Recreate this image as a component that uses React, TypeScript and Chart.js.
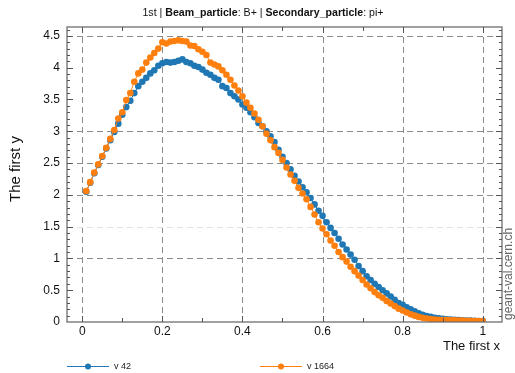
import { useEffect, useRef } from "react";
import { Chart, registerables } from "chart.js";

Chart.register(...registerables);

const TITLE_PARTS: [string, boolean][] = [
  ["1st | ", false],
  ["Beam_particle", true],
  [": B+ | ", false],
  ["Secondary_particle", true],
  [": pi+", false],
];
const X_TITLE = "The first x";
const Y_TITLE = "The first y";
const WATERMARK = "geant-val.cern.ch";
const SERIES_NAMES = ["v 42", "v 1664"];
const SERIES_COLORS = ["#1f77b4", "#ff7f0e"];

const X_TICKS = [0, 0.2, 0.4, 0.6, 0.8, 1];
const X_TICK_LABELS = ["0", "0.2", "0.4", "0.6", "0.8", "1"];
const Y_TICKS = [0, 0.5, 1, 1.5, 2, 2.5, 3, 3.5, 4, 4.5];
const Y_TICK_LABELS = ["0", "0.5", "1", "1.5", "2", "2.5", "3", "3.5", "4", "4.5"];
const Y_GRID_STRONG = [1, 2, 2.5, 3, 4.5];
const Y_GRID_FAINT = [1.5];

// sampling grid (x = 0.01 … 1.00)
const X_VALUES = Array.from({ length: 100 }, (_, i) => (i + 1) / 100);

const V42 = [
  2.05, 2.19, 2.34, 2.47, 2.6, 2.73, 2.86, 2.99, 3.12, 3.26,
  3.38, 3.48, 3.6, 3.71, 3.78, 3.84, 3.91, 3.96, 4.03, 4.07,
  4.09, 4.08, 4.09, 4.11, 4.13, 4.09, 4.07, 4.03, 4.01, 3.97,
  3.92, 3.89, 3.84, 3.81, 3.71, 3.68, 3.6, 3.55, 3.5, 3.42,
  3.37, 3.3, 3.22, 3.13, 3.08, 3.0, 2.92, 2.83, 2.71, 2.6,
  2.5, 2.4, 2.3, 2.21, 2.12, 2.04, 1.95, 1.85, 1.75, 1.67,
  1.57, 1.48, 1.4, 1.31, 1.22, 1.14, 1.06, 0.98, 0.88, 0.8,
  0.72, 0.66, 0.6, 0.55, 0.5, 0.45, 0.4, 0.35, 0.3, 0.27,
  0.23, 0.2, 0.17, 0.135, 0.115, 0.095, 0.08, 0.068, 0.058, 0.05,
  0.043, 0.038, 0.034, 0.03, 0.027, 0.024, 0.021, 0.018, 0.016, 0.015,
];

const V1664 = [
  2.06, 2.2, 2.35, 2.48, 2.61, 2.74, 2.88, 3.02, 3.2, 3.3,
  3.49, 3.6, 3.78, 3.91, 3.97, 4.08, 4.16, 4.23, 4.3, 4.4,
  4.38, 4.41, 4.42, 4.43, 4.42, 4.41, 4.35, 4.34, 4.29, 4.25,
  4.2, 4.08, 4.05, 4.02, 3.96, 3.89, 3.81, 3.72, 3.64, 3.55,
  3.45, 3.37, 3.28, 3.18, 3.08, 2.96, 2.86, 2.75, 2.66, 2.55,
  2.43, 2.32, 2.22, 2.11, 2.02, 1.93, 1.81, 1.69, 1.57, 1.47,
  1.38, 1.28, 1.2, 1.1, 1.02, 0.95, 0.87, 0.8, 0.73, 0.66,
  0.59, 0.53, 0.47, 0.42, 0.38, 0.33, 0.29, 0.25, 0.21, 0.18,
  0.15, 0.12, 0.1, 0.08, 0.065, 0.055, 0.047, 0.04, 0.036, 0.032,
  0.029, 0.027, 0.025, 0.023, 0.021, 0.019, 0.018, 0.016, 0.015, 0.015,
];

const FONT = '"Liberation Sans", Arial, Helvetica, sans-serif';

const framePlugin = {
  id: "framePlugin",
  beforeDatasetsDraw(chart: any) {
    const { ctx, chartArea } = chart;
    const xs = chart.scales.x;
    const ys = chart.scales.y;
    ctx.save();
    ctx.lineWidth = 1;
    ctx.setLineDash([6, 4]);
    ctx.strokeStyle = "#8a8a8a";
    for (const v of X_TICKS) {
      const px = Math.round(xs.getPixelForValue(v)) + 0.5;
      ctx.beginPath();
      ctx.moveTo(px, chartArea.top);
      ctx.lineTo(px, chartArea.bottom);
      ctx.stroke();
    }
    for (const v of Y_GRID_STRONG) {
      const py = Math.round(ys.getPixelForValue(v)) + 0.5;
      ctx.beginPath();
      ctx.moveTo(chartArea.left, py);
      ctx.lineTo(chartArea.right, py);
      ctx.stroke();
    }
    ctx.strokeStyle = "#e2e2e2";
    for (const v of Y_GRID_FAINT) {
      const py = Math.round(ys.getPixelForValue(v)) + 0.5;
      ctx.beginPath();
      ctx.moveTo(chartArea.left, py);
      ctx.lineTo(chartArea.right, py);
      ctx.stroke();
    }
    ctx.restore();
  },
  afterDatasetsDraw(chart: any) {
    const { ctx, chartArea } = chart;
    const xs = chart.scales.x;
    const ys = chart.scales.y;
    const { left, right, top, bottom } = chartArea;
    ctx.save();
    ctx.setLineDash([]);
    // frame
    ctx.strokeStyle = "#6f6f6f";
    ctx.lineWidth = 1.3;
    ctx.strokeRect(left, top, right - left, bottom - top);

    // ticks
    ctx.lineWidth = 1;
    ctx.strokeStyle = "#555";
    for (let k = 0; k <= 46; k++) {
      const v = k / 10;
      const major = k % 5 === 0;
      const len = major ? 6 : 3;
      const py = Math.round(ys.getPixelForValue(v)) + 0.5;
      if (py < top || py > bottom) continue;
      ctx.beginPath();
      ctx.moveTo(left, py);
      ctx.lineTo(left + len, py);
      ctx.moveTo(right, py);
      ctx.lineTo(right - len, py);
      ctx.stroke();
    }
    for (let k = 0; k <= 10; k++) {
      const v = k / 10;
      const major = k % 2 === 0;
      const len = major ? 6 : 4;
      const px = Math.round(xs.getPixelForValue(v)) + 0.5;
      ctx.beginPath();
      ctx.moveTo(px, bottom);
      ctx.lineTo(px, bottom - len);
      ctx.moveTo(px, top);
      ctx.lineTo(px, top + len);
      ctx.stroke();
    }

    // tick labels
    ctx.fillStyle = "#111";
    ctx.font = `12px ${FONT}`;
    ctx.textAlign = "right";
    ctx.textBaseline = "middle";
    Y_TICKS.forEach((v, i) => {
      ctx.fillText(Y_TICK_LABELS[i], 60, ys.getPixelForValue(v));
    });
    ctx.textAlign = "center";
    ctx.textBaseline = "top";
    X_TICKS.forEach((v, i) => {
      ctx.fillText(X_TICK_LABELS[i], xs.getPixelForValue(v), 326);
    });

    // axis titles
    ctx.font = `13px ${FONT}`;
    ctx.textAlign = "right";
    ctx.textBaseline = "middle";
    ctx.fillText(X_TITLE, 500, 346);

    ctx.save();
    ctx.translate(16, 169);
    ctx.rotate(-Math.PI / 2);
    ctx.font = `15px ${FONT}`;
    ctx.textAlign = "center";
    ctx.textBaseline = "middle";
    ctx.fillText(Y_TITLE, 0, 0);
    ctx.restore();

    // watermark
    ctx.save();
    ctx.translate(509, 320);
    ctx.rotate(-Math.PI / 2);
    ctx.font = `12px ${FONT}`;
    ctx.fillStyle = "#666";
    ctx.textAlign = "left";
    ctx.textBaseline = "middle";
    ctx.fillText(WATERMARK, 0, 0);
    ctx.restore();

    // title
    ctx.textBaseline = "middle";
    ctx.textAlign = "left";
    ctx.fillStyle = "#111";
    const TS = 10.6;
    let total = 0;
    for (const [t, b] of TITLE_PARTS) {
      ctx.font = `${b ? "bold " : ""}${TS}px ${FONT}`;
      total += ctx.measureText(t).width;
    }
    let tx = 263 - total / 2;
    for (const [t, b] of TITLE_PARTS) {
      ctx.font = `${b ? "bold " : ""}${TS}px ${FONT}`;
      ctx.fillText(t, tx, 13);
      tx += ctx.measureText(t).width;
    }

    // legend
    const legendX = [67, 260];
    SERIES_NAMES.forEach((name, i) => {
      const x0 = legendX[i];
      const y0 = 366.5;
      ctx.strokeStyle = SERIES_COLORS[i];
      ctx.lineWidth = 1;
      ctx.beginPath();
      ctx.moveTo(x0, y0);
      ctx.lineTo(x0 + 42, y0);
      ctx.stroke();
      ctx.fillStyle = SERIES_COLORS[i];
      ctx.beginPath();
      ctx.arc(x0 + 21, y0, 3, 0, Math.PI * 2);
      ctx.fill();
      ctx.fillStyle = "#222";
      ctx.font = `9px ${FONT}`;
      ctx.textBaseline = "middle";
      ctx.fillText(name, x0 + 47, y0);
    });
    ctx.restore();
  },
};

export default function App() {
  const ref = useRef<HTMLCanvasElement | null>(null);
  useEffect(() => {
    document.body.style.margin = "0";
    if (!ref.current) return;
    const mk = (vals: number[]) => X_VALUES.map((x, i) => ({ x, y: vals[i] }));
    const chart = new Chart(ref.current, {
      type: "line",
      data: {
        datasets: [
          {
            label: SERIES_NAMES[0],
            data: mk(V42),
            borderColor: SERIES_COLORS[0],
            backgroundColor: SERIES_COLORS[0],
            borderWidth: 1,
            pointRadius: 3.3,
            pointBorderWidth: 0,
            pointHoverRadius: 3.3,
            order: 2,
          },
          {
            label: SERIES_NAMES[1],
            data: mk(V1664),
            borderColor: SERIES_COLORS[1],
            backgroundColor: SERIES_COLORS[1],
            borderWidth: 1,
            pointRadius: 3.3,
            pointBorderWidth: 0,
            pointHoverRadius: 3.3,
            order: 1,
          },
        ],
      },
      options: {
        animation: false,
        responsive: false,
        devicePixelRatio: 1,
        layout: { padding: { left: 67, right: 13, top: 27, bottom: 51 } },
        scales: {
          x: { type: "linear", min: -0.038, max: 1.048, display: false },
          y: { type: "linear", min: 0, max: 4.64, display: false },
        },
        plugins: {
          legend: { display: false },
          title: { display: false },
          tooltip: { enabled: false },
        },
      },
      plugins: [framePlugin],
    });
    return () => chart.destroy();
  }, []);
  return (
    <div style={{ width: 515, height: 373, background: "#fff" }}>
      <canvas ref={ref} width={515} height={373} style={{ display: "block" }} />
    </div>
  );
}
